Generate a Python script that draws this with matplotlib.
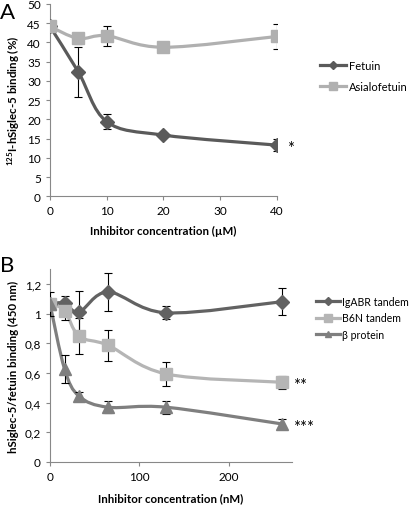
import numpy as np
import matplotlib
matplotlib.use("Agg")
import matplotlib.pyplot as plt
from matplotlib.path import Path
from matplotlib.patches import PathPatch

plt.rcParams["font.family"] = ["Lato", "DejaVu Sans"]
plt.rcParams["mathtext.fontset"] = "custom"
plt.rcParams["mathtext.rm"] = "Lato"
plt.rcParams["mathtext.bf"] = "Lato:bold"

# -------------------- 数据 --------------------
# 面板 A：µM
conc_a = [0, 5, 10, 20, 40]
fetuin = [44.1, 32.3, 19.4, 15.9, 13.3]
fetuin_err = [0, 6.5, 2.0, 0, 1.6]
asialo = [44.1, 41.0, 41.7, 38.7, 41.5]
asialo_err = [0, 1.4, 2.6, 0, 3.2]

# 面板 B：nM
conc_b = [0, 16.25, 32.5, 65, 130, 260]
igabr = [1.065, 1.07, 1.01, 1.145, 1.005, 1.08]
igabr_err = [0.08, 0.045, 0.145, 0.13, 0.045, 0.09]
b6n = [1.065, 1.02, 0.847, 0.786, 0.593, 0.537]
b6n_err = [0, 0.065, 0.12, 0.105, 0.08, 0.042]
beta = [1.065, 0.627, 0.443, 0.369, 0.369, 0.256]
beta_err = [0, 0.095, 0.03, 0.04, 0.045, 0.035]

yticks_b = [0, 0.2, 0.4, 0.6, 0.8, 1.0, 1.2]
yticklabels_b = ["0", "0,2", "0,4", "0,6", "0,8", "1", "1,2"]


def smooth_path(x, y, t=1 / 6):
    """Excel 风格平滑曲线：用三次贝塞尔连接数据点"""
    x = np.asarray(x, float)
    y = np.asarray(y, float)
    pts = np.column_stack([x, y])
    n = len(pts)
    verts = [pts[0]]
    codes = [Path.MOVETO]
    for i in range(n - 1):
        p0 = pts[max(i - 1, 0)]
        p1 = pts[i]
        p2 = pts[i + 1]
        p3 = pts[min(i + 2, n - 1)]
        c1 = p1 + (p2 - p0) * t
        c2 = p2 - (p3 - p1) * t
        verts += [c1, c2, p2]
        codes += [Path.CURVE4] * 3
    return Path(verts, codes)


def draw_series(ax, x, y, err, color, marker, ms, label):
    ax.add_patch(PathPatch(smooth_path(x, y), fill=False, edgecolor=color,
                           linewidth=2.3, zorder=2, capstyle="round"))
    e = np.asarray(err)
    mask = e > 0
    ax.errorbar(np.asarray(x)[mask], np.asarray(y)[mask], yerr=e[mask],
                fmt="none", ecolor="black", elinewidth=0.8, capsize=2.8,
                capthick=0.8, zorder=3)
    ax.plot(x, y, linestyle="none", marker=marker, markersize=ms,
            color=color, zorder=4)
    ax.plot([], [], color=color, linewidth=2.3, marker=marker,
            markersize=ms * 0.6, label=label)


def style_axes(ax):
    for s in ["top", "right"]:
        ax.spines[s].set_visible(False)
    for s in ["left", "bottom"]:
        ax.spines[s].set_color("#888888")
        ax.spines[s].set_linewidth(0.8)
    ax.tick_params(colors="#888888", labelcolor="black", labelsize=8.5,
                   length=3, width=0.8, direction="out")


fig = plt.figure(figsize=(4.16, 5.06), dpi=100)

# -------------------- 面板 A --------------------
ax_a = fig.add_axes([0.1202, 0.610, 0.545, 0.3806])
draw_series(ax_a, conc_a, fetuin, fetuin_err, "#5a5a5a", "D", 7, "Fetuin")
draw_series(ax_a, conc_a, asialo, asialo_err, "#b0b0b0", "s", 8.5, "Asialofetuin")
ax_a.set_xlim(0, 40)
ax_a.set_ylim(0, 50)
ax_a.set_xticks(range(0, 41, 10))
ax_a.set_yticks(range(0, 51, 5))
style_axes(ax_a)
ax_a.set_xlabel("Inhibitor concentration (µM)", fontsize=8.3, fontweight="bold",
                labelpad=6)
ax_a.set_ylabel(r"$\mathbf{^{125}}$I-hSiglec-5 binding (%)", fontsize=8.3,
                fontweight="bold", labelpad=4)
ax_a.legend(loc="upper left", bbox_to_anchor=(1.19, 0.71), frameon=False,
            fontsize=8, handlelength=2.4, handletextpad=0.2, labelspacing=0.95,
            borderaxespad=0, borderpad=0)
ax_a.text(41.8, fetuin[-1] - 0.8, "*", fontsize=12, va="center", ha="left")
fig.text(0.0, 0.995, "A", fontsize=16, va="top", ha="left")

# -------------------- 面板 B --------------------
ax_b = fig.add_axes([0.1202, 0.085, 0.581, 0.3814])
draw_series(ax_b, conc_b, igabr, igabr_err, "#626262", "D", 7, "IgABR tandem")
draw_series(ax_b, conc_b, b6n, b6n_err, "#b5b5b5", "s", 8.5, "B6N tandem")
draw_series(ax_b, conc_b, beta, beta_err, "#7f7f7f", "^", 8, "β protein")
ax_b.set_xlim(0, 270.5)
ax_b.set_ylim(0, 1.3)
ax_b.set_xticks([0, 100, 200])
ax_b.set_yticks(yticks_b)
ax_b.set_yticklabels(yticklabels_b)
style_axes(ax_b)
ax_b.set_xlabel("Inhibitor concentration (nM)", fontsize=8.3, fontweight="bold",
                labelpad=7)
ax_b.set_ylabel("hSiglec-5/fetuin binding (450 nm)", fontsize=8.3,
                fontweight="bold", labelpad=4)
ax_b.legend(loc="upper left", bbox_to_anchor=(1.10, 0.86), frameon=False,
            fontsize=7.6, handlelength=2.3, handletextpad=0.2, labelspacing=0.5,
            borderaxespad=0, borderpad=0)
ax_b.text(272, b6n[-1] - 0.02, "**", fontsize=12, va="center", ha="left")
ax_b.text(272, beta[-1] - 0.02, "***", fontsize=12, va="center", ha="left")
fig.text(0.0, 0.495, "B", fontsize=16, va="top", ha="left")

fig.savefig("out.png", dpi=100)
